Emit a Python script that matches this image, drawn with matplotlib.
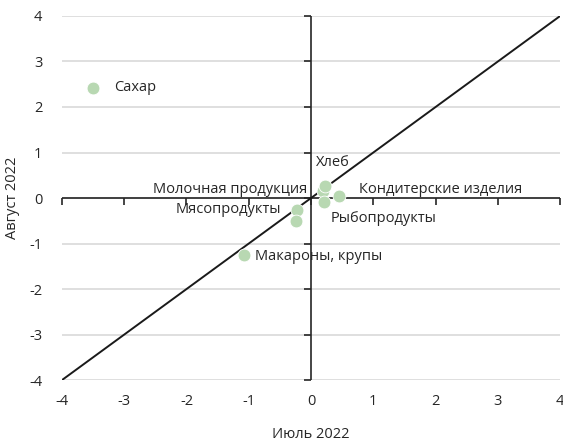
import matplotlib
matplotlib.use('Agg')
import matplotlib.pyplot as plt

plt.rcParams['font.family'] = ['Open Sans', 'DejaVu Sans']

# Данные: июль 2022 (x) и август 2022 (y)
products = ['Сахар', 'Молочная продукция', 'Хлеб', 'Кондитерские изделия',
            'Рыбопродукты', 'Мясопродукты', '', 'Макароны, крупы']
july = [-3.50, 0.19, 0.22, 0.45, 0.21, -0.22, -0.24, -1.08]
august = [2.42, 0.16, 0.27, 0.04, -0.09, -0.26, -0.51, -1.25]
ticks = [-4, -3, -2, -1, 0, 1, 2, 3, 4]

# Смещения подписей в пикселях и выравнивание
offsets = [(21, 0), (-16, 1), (8, 23), (20, 7), (6, -16), (-16, 0), (0, 0), (11, -2)]
aligns = ['left', 'right', 'center', 'left', 'left', 'right', 'left', 'left']

fig = plt.figure(figsize=(5.63, 4.43), dpi=100)
ax = fig.add_axes([0.110, 0.142, 0.885, 0.822])

ax.set_xlim(-4, 4)
ax.set_ylim(-4, 4)
ax.set_xticks(ticks)
ax.set_yticks(ticks)
ax.set_xticklabels([str(t) for t in ticks])
ax.set_yticklabels([str(t) for t in ticks])
for s in ax.spines.values():
    s.set_visible(False)
ax.tick_params(length=0, labelsize=10.5, colors='#262626', pad=10)
ax.tick_params(axis='y', pad=14)
ax.grid(axis='y', color='#d9d9d9', lw=1.2)
ax.set_axisbelow(True)

# Оси через ноль с засечками
ax.axhline(0, color='#262626', lw=1.2, zorder=1)
ax.axvline(0, color='#262626', lw=1.2, zorder=1)
ax.plot(ticks, [0] * len(ticks), ls='', marker=3, ms=5, mew=1.2, color='#262626', clip_on=False)
ax.plot([0] * len(ticks), ticks, ls='', marker=0, ms=5, mew=1.2, color='#262626', clip_on=False)

# Диагональ
ax.plot([-4, 4], [-4, 4], color='#1a1a1a', lw=1.4, zorder=2)

ax.scatter(july, august, s=85, color='#b8d8b2', edgecolors='white', linewidths=0.6, zorder=3)

for name, x, y, off, ha in zip(products, july, august, offsets, aligns):
    if name:
        ax.annotate(name, (x, y), xytext=off, textcoords='offset pixels',
                    ha=ha, va='center', fontsize=10.5, color='#262626', zorder=4)

ax.set_xlabel('Июль 2022', fontsize=10.5, color='#262626', labelpad=13)
ax.set_ylabel('Август 2022', fontsize=10.5, color='#262626', labelpad=7)

plt.savefig('out.png', dpi=100)
